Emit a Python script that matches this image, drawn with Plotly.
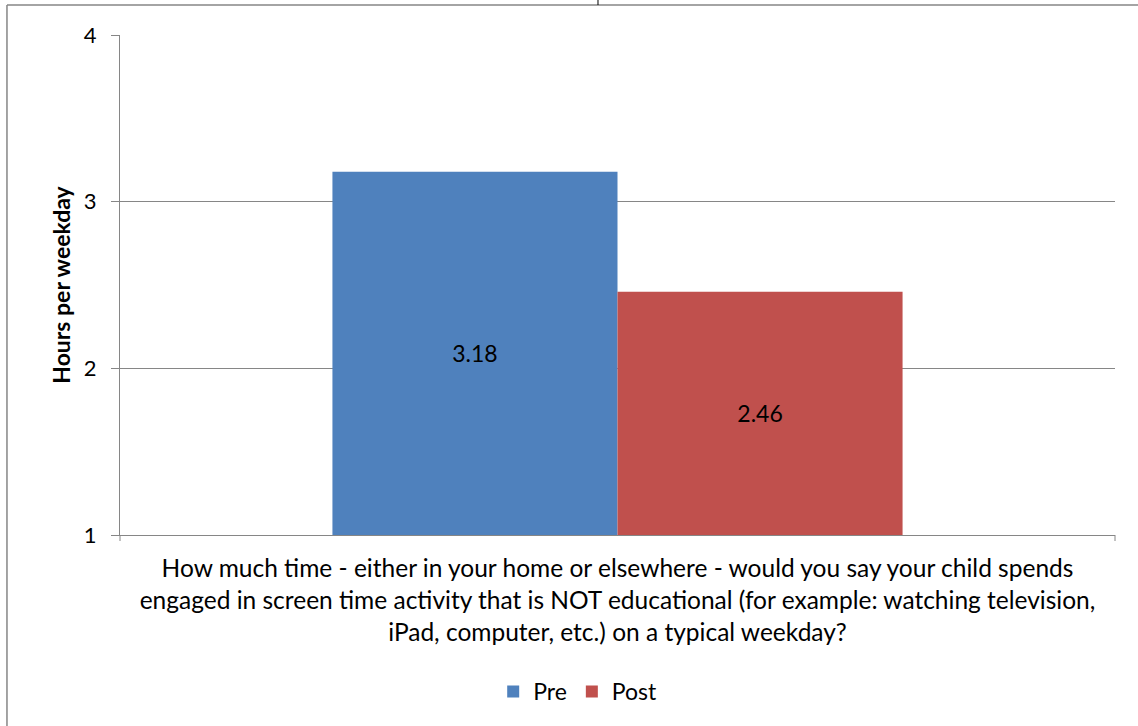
import plotly.graph_objects as go

# dados
categorias = ["How much time - either in your home or elsewhere - would you say your child spends<br>"
              "engaged in screen time activity that is NOT educational (for example: watching television,<br>"
              "iPad, computer, etc.) on a typical weekday?"]
series = ["Pre", "Post"]
valores_pre = [3.18]
valores_post = [2.46]
cores = {"Pre": "#4F81BD", "Post": "#C0504D"}
eixo_min, eixo_max = 1, 4

FONTE = "Lato, 'Open Sans', sans-serif"
CINZA = "#868686"

fig = go.Figure()

# barras começam no mínimo do eixo (como no Excel)
for nome, vals in zip(series, [valores_pre, valores_post]):
    fig.add_trace(go.Bar(
        name=nome,
        x=categorias,
        y=[v - eixo_min for v in vals],
        base=eixo_min,
        text=[f"{v:.2f}" for v in vals],
        textposition="inside",
        insidetextanchor="middle",
        textfont=dict(size=23, color="black", family=FONTE),
        marker_color=cores[nome],
        marker_line_width=0,
        hovertemplate=nome + ": %{text}<extra></extra>",
    ))

fig.update_layout(
    width=1138,
    height=726,
    barmode="group",
    bargap=0.427,
    bargroupgap=0,
    plot_bgcolor="white",
    paper_bgcolor="white",
    font=dict(family=FONTE, size=22, color="black"),
    margin=dict(l=120, r=23, t=35, b=191),
    showlegend=True,
    legend=dict(
        orientation="h",
        x=0.46, xanchor="center",
        y=-0.27, yanchor="top",
        font=dict(size=23),
        itemwidth=30,
    ),
)

fig.update_yaxes(
    range=[eixo_min, eixo_max],
    dtick=1,
    showgrid=True,
    gridcolor=CINZA,
    gridwidth=1,
    showline=True,
    linecolor=CINZA,
    ticks="outside",
    ticklen=8,
    tickcolor=CINZA,
    tickfont=dict(size=22),
    ticklabelstandoff=10,
    zeroline=False,
    title=dict(text="<b>Hours per weekday</b>", font=dict(size=23), standoff=6),
)

fig.update_xaxes(
    showline=True,
    linecolor=CINZA,
    ticks="",
    tickfont=dict(size=24.5),
    ticklabelstandoff=12,
)

# moldura do gráfico (recorte do Excel)
fig.add_shape(type="line", xref="paper", yref="paper", x0=-0.1136, x1=1.1, y0=1.06, y1=1.06,
              line=dict(color=CINZA, width=1.5))
fig.add_shape(type="line", xref="paper", yref="paper", x0=-0.1136, x1=-0.1136, y0=-0.4, y1=1.06,
              line=dict(color=CINZA, width=1.5))
fig.add_shape(type="line", xref="paper", yref="paper", x0=0.4804, x1=0.4804, y0=1.06, y1=1.08,
              line=dict(color="black", width=1))
# pequenos traços nas extremidades do eixo x
for xp in [0, 1]:
    fig.add_shape(type="line", xref="paper", yref="paper", x0=xp, x1=xp, y0=0, y1=-0.012,
                  line=dict(color=CINZA, width=1))

fig.write_html("out.html", config={"displayModeBar": False},
               post_script="document.body.style.margin='0';")
